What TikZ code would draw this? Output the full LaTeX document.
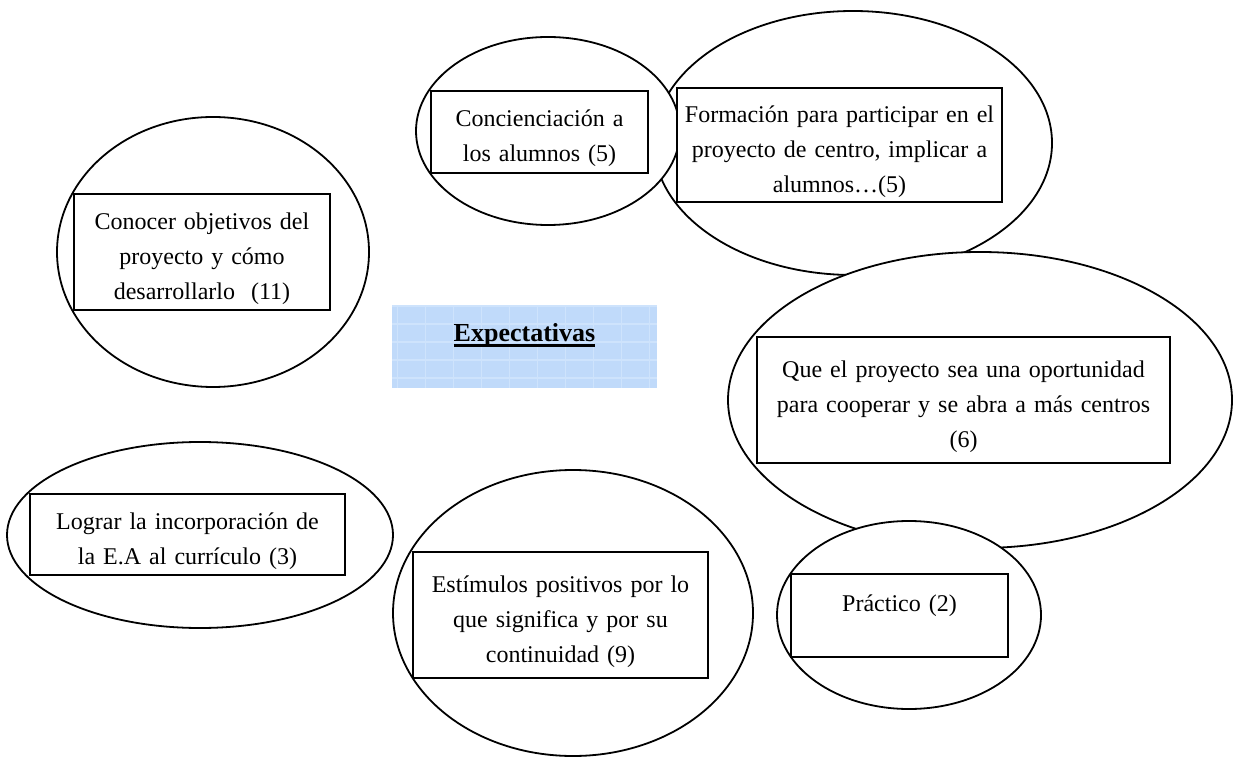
\documentclass[tikz,border=0pt]{standalone}
\usepackage{fontspec}
\setmainfont{Liberation Serif}
\usetikzlibrary{shapes.geometric}

\definecolor{texblue}{RGB}{192,218,250}
\definecolor{texgrid}{RGB}{206,227,252}
\newcommand{\itemfont}{\fontsize{12}{17.5}\selectfont}
\newsavebox{\ulinebox}
\newcommand{\ulinetext}[1]{\sbox{\ulinebox}{#1}\rlap{\rule[-2.4pt]{\wd\ulinebox}{1.3pt}}\usebox{\ulinebox}}

\tikzset{
  bubble/.style={ellipse, draw, fill=white, line width=0.9pt, inner sep=0pt},
  itembox/.style={rectangle, draw, fill=white, line width=1pt, inner sep=0pt,
    text height=15pt, align=center, font=\itemfont},
  titlebox/.style={rectangle, fill=texblue, inner xsep=0pt, inner ysep=9pt,
    text height=9pt, text depth=14pt, font=\fontsize{13}{15}\selectfont\bfseries,
    path picture={\draw[texgrid, line width=0.6pt, xstep=14pt, ystep=9pt]
      (path picture bounding box.south west) grid (path picture bounding box.north east);}},
}

\begin{document}
\begin{tikzpicture}[x=0.5pt, y=-0.5pt]
    \useasboundingbox (0,0) rectangle (1240,758);

    % Bubbles (later ones lie over earlier ones)
    \node[bubble, minimum width=199pt, minimum height=132pt] (formacionBub) at (853,143) {};
    \node[bubble, minimum width=132pt, minimum height=94pt] (concienBub) at (548,131) {};
    \node[bubble, minimum width=252pt, minimum height=148pt] (queBub) at (980,400) {};
    \node[bubble, minimum width=132pt, minimum height=94pt] (practicoBub) at (909,615) {};
    \node[bubble, minimum width=156pt, minimum height=135pt] (conocerBub) at (213,252) {};
    \node[bubble, minimum width=193pt, minimum height=93pt] (lograrBub) at (200,535) {};
    \node[bubble, minimum width=180pt, minimum height=143pt] (estimBub) at (573,613) {};

    % Text boxes
    \node[itembox, minimum width=128pt, text width=124pt, minimum height=58pt] (conocer) at (202,252)
        {Conocer objetivos del\\proyecto y cómo\\desarrollarlo \ (11)};
    \node[itembox, minimum width=108.5pt, text width=104pt, minimum height=41pt] (concien) at (539.5,132)
        {Concienciación a\\los alumnos (5)};
    \node[itembox, minimum width=162.5pt, text width=158pt, minimum height=57pt] (formacion) at (839.5,145)
        {Formación para participar en el\\proyecto de centro, implicar a\\alumnos…(5)};
    \node[itembox, minimum width=206.5pt, text width=202pt, minimum height=63pt] (que) at (963.5,400)
        {Que el proyecto sea una oportunidad\\para cooperar y se abra a más centros\\(6)};
    \node[itembox, text height=19pt, minimum width=108.5pt, text width=104pt, minimum height=40.5pt] (practico) at (899.5,615.5)
        {Práctico (2)\\\strut};
    \node[itembox, minimum width=147.5pt, text width=143pt, minimum height=63pt] (estim) at (560.5,615)
        {Estímulos positivos por lo\\que significa y por su\\continuidad (9)};
    \node[itembox, minimum width=157.5pt, text width=153pt, minimum height=40.5pt] (lograr) at (187.5,534.5)
        {Lograr la incorporación de\\la E.A al currículo (3)};

    % Central title
    \node[titlebox, minimum width=132.5pt] (expect) at (524.5,347) {\ulinetext{Expectativas}};
\end{tikzpicture}
\end{document}
